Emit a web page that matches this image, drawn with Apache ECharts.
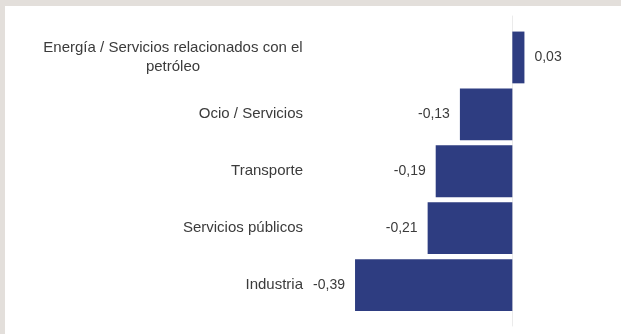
<!DOCTYPE html>
<html>
<head>
<meta charset="utf-8">
<script src="https://cdn.jsdelivr.net/npm/echarts@6/dist/echarts.min.js"></script>
<style>
  html, body { margin: 0; padding: 0; background: #e3dfdb; }
  #panel { position: absolute; left: 5px; top: 6px; width: 616px; height: 328px; background: #ffffff; }
  #chart { position: absolute; left: 0; top: 0; width: 621px; height: 334px; }
</style>
</head>
<body>
<div id="panel"></div>
<div id="chart"></div>
<script>
// Sector categories (top to bottom) and their values
const sectors = [
  'Energía / Servicios relacionados con el\npetróleo',
  'Ocio / Servicios',
  'Transporte',
  'Servicios públicos',
  'Industria'
];
const values = [0.03, -0.13, -0.19, -0.21, -0.39];

const textColor = '#3b3b3b';
const barColor = '#2e3d81';
const catFont = '"Liberation Sans", Arial, sans-serif';
const catSize = 15;
const valFont = '"Liberation Sans", Arial, sans-serif';
const valSize = 14;

const fmtComma = v => v.toFixed(2).replace('.', ',');

// width of the widest line of a wrapped label, so its lines can be centred on each other
function maxLineWidth(text) {
  const ctx = document.createElement('canvas').getContext('2d');
  ctx.font = catSize + 'px ' + catFont;
  return Math.ceil(Math.max.apply(null, text.split('\n').map(s => ctx.measureText(s).width)));
}

const chart = echarts.init(document.getElementById('chart'), null, { renderer: 'canvas' });

function render() {
  const wrapWidth = maxLineWidth(sectors[0]);
  chart.setOption({
    animation: false,
    grid: [
      { left: 351, right: 28, top: 29, bottom: 20.5, containLabel: false },
      // taller grid carrying only the zero reference line
      { left: 351, right: 28, top: 16, bottom: 8, containLabel: false }
    ],
    xAxis: [
      { gridIndex: 0, type: 'value', min: -0.4, max: 0.2, show: false },
      { gridIndex: 1, type: 'value', min: -0.4, max: 0.2, show: false }
    ],
    yAxis: [
      {
        gridIndex: 0,
        type: 'category',
        inverse: true,
        data: sectors,
        axisLine: { show: false },
        axisTick: { show: false },
        splitLine: { show: false },
        axisLabel: {
          margin: 48,
          color: textColor,
          fontFamily: catFont,
          fontSize: catSize,
          formatter: function (v) {
            const lines = v.split('\n');
            if (lines.length > 1) {
              return lines.map(s => '{c|' + s + '}').join('\n');
            }
            return v;
          },
          rich: {
            c: { width: wrapWidth, align: 'center', color: textColor, fontFamily: catFont, fontSize: catSize, lineHeight: 19 }
          }
        }
      },
      {
        gridIndex: 1,
        type: 'value',
        min: 0,
        max: 1,
        axisLine: { show: true, onZero: true, lineStyle: { color: '#ebebeb', width: 1 } },
        axisTick: { show: false },
        axisLabel: { show: false },
        splitLine: { show: false }
      }
    ],
    series: [
      {
        type: 'bar',
        xAxisIndex: 0,
        yAxisIndex: 0,
        barCategoryGap: '9%',
        itemStyle: { color: barColor },
        label: {
          show: true,
          distance: 10,
          color: textColor,
          fontFamily: valFont,
          fontSize: valSize,
          formatter: p => fmtComma(p.value)
        },
        // negative bars carry their value label on the left side
        data: values.map(v => ({
          value: v,
          label: { position: v < 0 ? 'left' : 'right' }
        }))
      }
    ]
  });
}

if (document.fonts && document.fonts.load) {
  document.fonts.load(catSize + 'px "Liberation Sans"').then(render, render);
} else {
  render();
}
</script>
</body>
</html>
